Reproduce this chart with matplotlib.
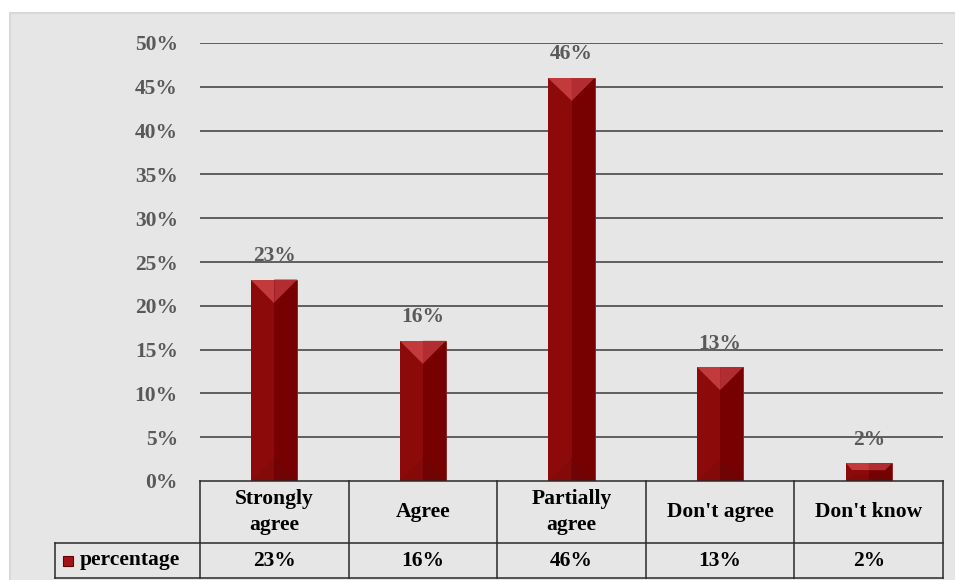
import matplotlib.pyplot as plt
from matplotlib.patches import Rectangle, Polygon
from matplotlib.transforms import blended_transform_factory

categories = ["Strongly\nagree", "Agree", "Partially\nagree", "Don't agree", "Don't know"]
values = [23, 16, 46, 13, 2]
series_name = "percentage"
yticks = [0, 5, 10, 15, 20, 25, 30, 35, 40, 45, 50]

W, H = 955, 580
FONT = "Liberation Serif"
FS = 15.5
plt.rcParams["font.family"] = [FONT, "DejaVu Serif"]

fig = plt.figure(figsize=(W / 100, H / 100), dpi=100)
fig.patch.set_facecolor("white")

def fx(px):
    return px / W

def fy(py):
    return 1 - py / H

# grey chart area
fig.add_artist(Rectangle((fx(10), -0.01), fx(960) - fx(10), fy(13) + 0.01, transform=fig.transFigure,
                         facecolor="#e6e6e6", edgecolor="#d8d8d8", linewidth=1.5, zorder=-10))

top_px, base_px, left_px, right_px = 43, 481, 200, 943
ax = fig.add_axes([fx(left_px), fy(base_px), fx(right_px) - fx(left_px), fy(top_px) - fy(base_px)])
ax.set_zorder(1)
ax.set_facecolor("none")
ax.set_xlim(-0.5, len(categories) - 0.5)
ax.set_ylim(0, 50)
for s in ax.spines.values():
    s.set_visible(False)
ax.set_xticks([])
ax.set_yticks(yticks)
ax.set_yticklabels([f"{v}%" for v in yticks])
ax.tick_params(axis="y", length=0, pad=16, labelsize=FS, labelcolor="#595959")
for lab in ax.get_yticklabels():
    lab.set_fontweight("bold")
for v in yticks[1:]:
    ax.axhline(v, color="#3a3a3a", linewidth=1.1, zorder=1)

# bevelled bars
ax_h_px = base_px - top_px
px_y = 50 / ax_h_px
bar_w = 0.31
half_px = bar_w / 2 * (right_px - left_px) / len(categories)
for i, v in enumerate(values):
    x0, x1, xc = i - bar_w / 2, i + bar_w / 2, i
    ax.bar(i, v, width=bar_w, color="#770000", edgecolor="#8a2020", linewidth=0.6, zorder=2)
    ax.add_patch(Rectangle((x0, 0), bar_w / 2, v, facecolor="#8c0a0a", linewidth=0, zorder=3))
    d_px = min(half_px, v / px_y / 2.6)
    d = d_px * px_y
    dx = bar_w / 2 * d_px / half_px
    # top bevel
    ax.add_patch(Polygon([(x0, v), (xc, v), (xc, v - d), (x0 + dx, v - d)], closed=True,
                         facecolor="#c33a3d", linewidth=0, zorder=4))
    ax.add_patch(Polygon([(xc, v), (x1, v), (x1 - dx, v - d), (xc, v - d)], closed=True,
                         facecolor="#b22d31", linewidth=0, zorder=4))
    # bottom bevel, kept subtle
    ax.add_patch(Polygon([(x0, 0), (xc, 0), (xc, d), (x0 + dx, d)], closed=True,
                         facecolor="#840909", linewidth=0, zorder=4))
    ax.add_patch(Polygon([(xc, 0), (x1, 0), (x1 - dx, d), (xc, d)], closed=True,
                         facecolor="#700303", linewidth=0, zorder=4))
    ax.annotate(f"{v}%", (i, v), xytext=(0, 17), textcoords="offset points",
                ha="center", va="center", fontsize=FS, fontweight="bold", color="#595959", zorder=5)

# data table under the axis
tr = blended_transform_factory(ax.transData, ax.transAxes)
cell_px = (right_px - left_px) / len(categories)
row1 = -(543 - base_px) / ax_h_px
row2 = -(578 - base_px) / ax_h_px
x_left = -0.5
x_right = len(categories) - 0.5
x_legend = -0.5 - (left_px - 55) / cell_px
lc = "#2a2a2a"
lw = 1.1
ax.plot([x_left, x_right], [0, 0], transform=tr, color=lc, lw=lw, clip_on=False, zorder=6)
ax.plot([x_legend, x_right], [row1, row1], transform=tr, color=lc, lw=lw, clip_on=False, zorder=6)
ax.plot([x_legend, x_right], [row2, row2], transform=tr, color=lc, lw=lw, clip_on=False, zorder=6)
ax.plot([x_legend, x_legend], [row1, row2], transform=tr, color=lc, lw=lw, clip_on=False, zorder=6)
for k in range(len(categories) + 1):
    xk = -0.5 + k
    ax.plot([xk, xk], [0, row2], transform=tr, color=lc, lw=lw, clip_on=False, zorder=6)

for i, (c, v) in enumerate(zip(categories, values)):
    ax.text(i, row1 / 2, c, transform=tr, ha="center", va="center", fontsize=FS,
            fontweight="bold", color="black", linespacing=1.4)
    ax.text(i, (row1 + row2) / 2, f"{v}%", transform=tr, ha="center", va="center",
            fontsize=FS, fontweight="bold", color="black")

# legend key in the first column
fig.add_artist(Rectangle((fx(63), fy(566)), fx(10), 10 / H, transform=fig.transFigure,
                         facecolor="#a31418", edgecolor="#6a0000", linewidth=0.8, zorder=7))
fig.text(fx(80), fy(560.5), series_name, ha="left", va="center", fontsize=FS,
         fontweight="bold", color="black")

fig.savefig("out.png", dpi=100)
